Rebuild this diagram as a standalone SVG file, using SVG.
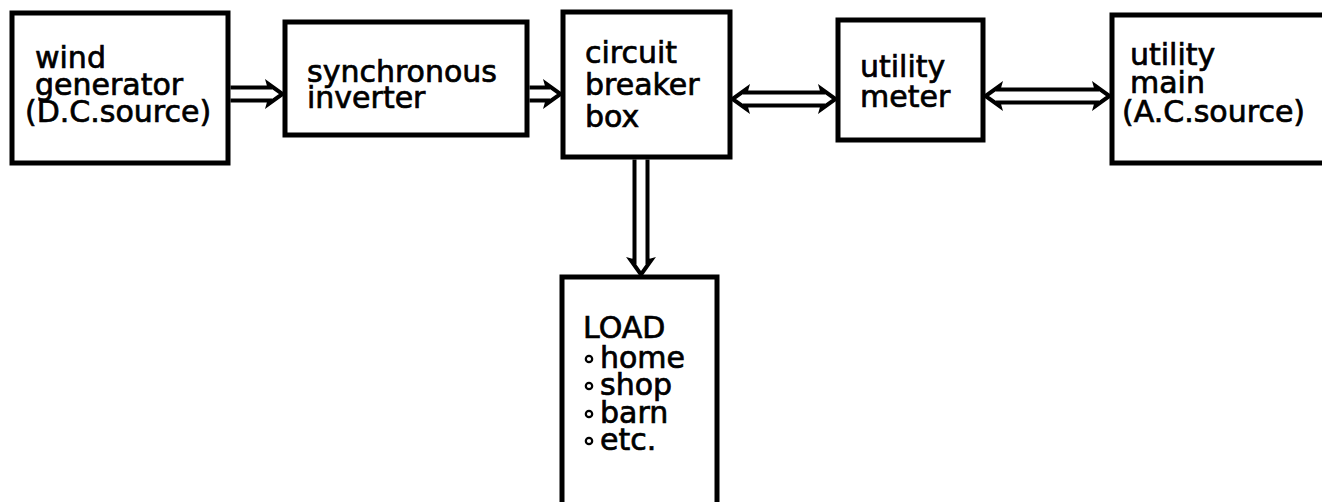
<svg xmlns="http://www.w3.org/2000/svg" width="1322" height="502" viewBox="0 0 1322 502">
<style>
.box{fill:#fff;stroke:#000;stroke-width:5}
.t{font-family:"DejaVu Sans","Liberation Sans",sans-serif;font-size:30px;fill:#000;stroke:#000;stroke-width:0.7}
.arr{fill:none;stroke:#000;stroke-width:4;stroke-linejoin:miter}
.bul{fill:none;stroke:#000;stroke-width:2.2}
</style>
<rect width="1322" height="502" fill="#fff"/>
<g id="wind-generator">
<rect class="box" x="12" y="13" width="216" height="150"/>
<text class="t" x="35" y="68">wind</text>
<text class="t" x="35" y="95">generator</text>
<text class="t" x="25" y="122">(D.C.source)</text>
</g>
<g id="synchronous-inverter">
<rect class="box" x="285" y="22" width="242" height="113"/>
<text class="t" x="307" y="82">synchronous</text>
<text class="t" x="307" y="108">inverter</text>
</g>
<g id="circuit-breaker-box">
<rect class="box" x="563" y="12" width="167" height="145"/>
<text class="t" x="585" y="63">circuit</text>
<text class="t" x="585" y="95">breaker</text>
<text class="t" x="585" y="127">box</text>
</g>
<g id="utility-meter">
<rect class="box" x="838" y="20" width="145" height="120"/>
<text class="t" x="860" y="77">utility</text>
<text class="t" x="860" y="107">meter</text>
</g>
<g id="utility-main">
<rect class="box" x="1112" y="15" width="230" height="148"/>
<text class="t" x="1130" y="65">utility</text>
<text class="t" x="1130" y="93">main</text>
<text class="t" x="1122" y="122">(A.C.source)</text>
</g>
<g id="load">
<rect class="box" x="562" y="277" width="155" height="240"/>
<text class="t" x="583" y="338">LOAD</text>
<circle class="bul" cx="589" cy="359" r="3.2"/>
<text class="t" x="600" y="368">home</text>
<circle class="bul" cx="589" cy="386" r="3.2"/>
<text class="t" x="600" y="395">shop</text>
<circle class="bul" cx="589" cy="414" r="3.2"/>
<text class="t" x="600" y="423">barn</text>
<circle class="bul" cx="589" cy="441" r="3.2"/>
<text class="t" x="600" y="450">etc.</text>
</g>
<g id="connectors">
<path class="arr" d="M230.5,87.5 H269.5 L268.5,84 L282.5,94 L268.5,104 L269.5,100.5 H230.5"/>
<path class="arr" d="M529.5,87.5 H547.5 L546.5,84 L560.5,94 L546.5,104 L547.5,100.5 H529.5"/>
<path class="arr" d="M745.5,92.5 H822.5 L821.5,89 L835.5,99 L821.5,109 L822.5,105.5 H745.5 L746.5,109 L732.5,99 L746.5,89 Z"/>
<path class="arr" d="M998.5,89.5 H1096.5 L1095.5,86 L1109.5,96 L1095.5,106 L1096.5,102.5 H998.5 L999.5,106 L985.5,96 L999.5,86 Z"/>
<path class="arr" d="M634.5,159.5 V261.5 L631,260.5 L641,274.5 L651,260.5 L647.5,261.5 V159.5"/>
</g>
</svg>
